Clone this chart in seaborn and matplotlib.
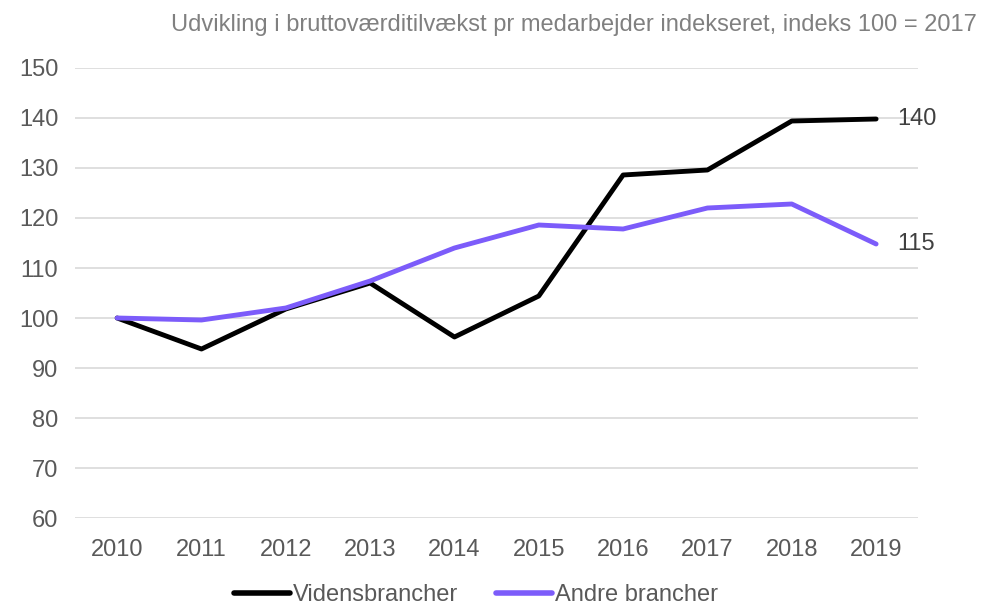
"""
Udvikling i bruttovaerditilvaekst pr medarbejder - linjediagram.
"""

import pandas as pd
import matplotlib.pyplot as plt
import seaborn as sns

AAR = ["2010", "2011", "2012", "2013", "2014", "2015", "2016", "2017", "2018", "2019"]
VIDENSBRANCHER = [100, 93.8, 101.8, 107, 96.2, 104.4, 128.6, 129.6, 139.4, 139.8]
ANDRE_BRANCHER = [100, 99.6, 102, 107.4, 114, 118.6, 117.8, 122, 122.8, 114.8]
SERIER = ["Vidensbrancher", "Andre brancher"]
FARVER = ["#000000", "#7C5CFA"]
SLUT_LABELS = ["140", "115"]

TITEL = "Udvikling i bruttoværditilvækst pr medarbejder indekseret, indeks 100 = 2017"


def main():
    sns.set_theme(style="white")
    plt.rcParams["font.family"] = ["Liberation Sans", "DejaVu Sans"]

    df = pd.DataFrame({"aar": AAR * 2,
                       "indeks": VIDENSBRANCHER + ANDRE_BRANCHER,
                       "serie": [SERIER[0]] * len(AAR) + [SERIER[1]] * len(AAR)})

    fig = plt.figure(figsize=(9.84, 6.06), dpi=100)
    ax = fig.add_axes([0.0762, 0.1452, 0.857, 0.7426])

    sns.lineplot(data=df, x="aar", y="indeks", hue="serie", palette=FARVER,
                 linewidth=3.5, ax=ax, sort=False)
    for ln in ax.lines:
        ln.set_solid_capstyle("round")

    ax.set_xlim(-0.5, len(AAR) - 0.5)
    ax.set_ylim(60, 150)
    ax.set_yticks(range(60, 151, 10))
    ax.yaxis.grid(True, color="#d9d9d9", linewidth=1.2)
    ax.set_axisbelow(True)
    for s in ax.spines.values():
        s.set_visible(False)
    ax.tick_params(axis="both", length=0, labelsize=17, labelcolor="#595959")
    ax.tick_params(axis="x", pad=15)
    ax.tick_params(axis="y", pad=12)
    ax.set_xlabel("")
    ax.set_ylabel("")

    for serie, txt in zip([VIDENSBRANCHER, ANDRE_BRANCHER], SLUT_LABELS):
        ax.annotate(txt, (len(AAR) - 1, serie[-1]), xytext=(15, 0), textcoords="offset points",
                    va="center", ha="left", fontsize=17, color="#404040")

    fig.text(0.583, 0.959, TITEL, ha="center", va="center", fontsize=17, color="#808080")

    ax.legend(loc="center", bbox_to_anchor=(0.475, -0.172), ncol=2, frameon=False,
              fontsize=17, handlelength=2.4, handletextpad=0.1, columnspacing=1.6,
              labelcolor="#595959")
    for h in ax.get_legend().get_lines():
        h.set_linewidth(4)
        h.set_solid_capstyle("round")

    fig.savefig("out.png", dpi=100)
    plt.close(fig)


if __name__ == "__main__":
    main()
